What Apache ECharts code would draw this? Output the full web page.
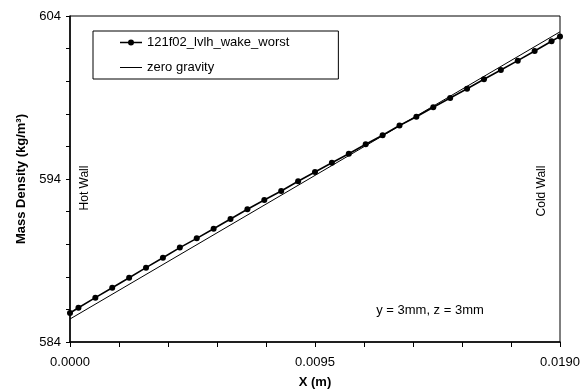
<!DOCTYPE html>
<html>
<head>
<meta charset="utf-8">
<script src="https://cdn.jsdelivr.net/npm/echarts@6/dist/echarts.min.js"></script>
<style>html,body{margin:0;padding:0;background:#fff}#c{width:581px;height:389px}</style>
</head>
<body>
<div id="c"></div>
<script>
var seriesNames = ['121f02_lvlh_wake_worst', 'zero gravity'];
var xPositions = [0, 0.000328, 0.000983, 0.001638, 0.002293, 0.002948, 0.003603, 0.004259, 0.004914, 0.005569, 0.006224, 0.006879, 0.007534, 0.008190, 0.008845, 0.0095, 0.010155, 0.010810, 0.011466, 0.012121, 0.012776, 0.013431, 0.014086, 0.014741, 0.015397, 0.016052, 0.016707, 0.017362, 0.018017, 0.018672, 0.019];
var wakeDensity = [585.78, 586.10, 586.72, 587.33, 587.94, 588.56, 589.17, 589.79, 590.36, 590.95, 591.55, 592.14, 592.71, 593.26, 593.86, 594.43, 595.00, 595.55, 596.13, 596.68, 597.28, 597.82, 598.40, 598.97, 599.54, 600.12, 600.69, 601.26, 601.85, 602.45, 602.75];
var zeroGX = [0, 0.019];
var zeroGDensity = [585.41, 603.03];
var yLabels = [584, 594, 604];
var xLabels = [0, 0.0095, 0.019];

var font = 'Liberation Sans, Arial, sans-serif';
var chart = echarts.init(document.getElementById('c'));
function pairs(xs, ys) { return xs.map(function (x, i) { return [x, ys[i]]; }); }
chart.setOption({
  animation: false,
  textStyle: { fontFamily: font },
  grid: { left: 70, right: 21, top: 16, bottom: 47, show: true, borderColor: '#000', borderWidth: 1, containLabel: false, outerBoundsMode: 'none' },
  legend: {
    left: 93, top: 31, orient: 'vertical',
    borderColor: '#000', borderWidth: 1,
    padding: [5, 49, 5, 27], itemGap: 12, itemWidth: 22, itemHeight: 14,
    symbolKeepAspect: true,
    textStyle: { fontFamily: font, fontSize: 13, color: '#000' },
    data: [
      { name: seriesNames[0], icon: 'path://M0 2.25 H22 V3.75 H0 Z M11 0 A3 3 0 1 1 11 6 A3 3 0 1 1 11 0 Z', itemStyle: { color: '#000', borderWidth: 0 } },
      { name: seriesNames[1], icon: 'path://M0 0 H22 V1 H0 Z', itemStyle: { color: '#000', borderWidth: 0 } }
    ]
  },
  xAxis: {
    type: 'value', min: 0, max: 0.019, interval: 0.0019,
    name: 'X (m)', nameLocation: 'middle', nameGap: 34,
    nameTextStyle: { fontFamily: font, fontSize: 13, fontWeight: 'bold', color: '#000' },
    axisLine: { show: true, lineStyle: { color: '#000', width: 1.5 } },
    axisTick: { show: true, inside: false, length: 5, lineStyle: { color: '#000' } },
    splitLine: { show: false },
    axisLabel: {
      color: '#000', fontSize: 13, fontFamily: font, margin: 14, showMaxLabel: true,
      formatter: function (v) {
        for (var i = 0; i < xLabels.length; i++) if (Math.abs(v - xLabels[i]) < 1e-7) return xLabels[i].toFixed(4);
        return '';
      }
    }
  },
  yAxis: {
    type: 'value', min: 584, max: 604, interval: 2,
    name: 'Mass Density (kg/m³)', nameLocation: 'middle', nameGap: 35,
    nameTextStyle: { fontFamily: font, fontSize: 13, fontWeight: 'bold', color: '#000' },
    axisLine: { show: true, lineStyle: { color: '#000', width: 1.5 } },
    axisTick: { show: true, inside: false, length: 4, lineStyle: { color: '#000' } },
    splitLine: { show: false },
    axisLabel: {
      color: '#000', fontSize: 13, fontFamily: font, margin: 9,
      formatter: function (v) { return yLabels.indexOf(Math.round(v)) >= 0 ? String(Math.round(v)) : ''; }
    }
  },
  graphic: [
    { type: 'text', x: 85, y: 188, rotation: Math.PI / 2, style: { text: 'Hot Wall', fill: '#000', font: '12px ' + font, align: 'center', verticalAlign: 'middle' } },
    { type: 'text', x: 542, y: 191, rotation: Math.PI / 2, style: { text: 'Cold Wall', fill: '#000', font: '12px ' + font, align: 'center', verticalAlign: 'middle' } },
    { type: 'text', x: 430, y: 310, style: { text: 'y = 3mm, z = 3mm', fill: '#000', font: '13px ' + font, align: 'center', verticalAlign: 'middle' } }
  ],
  series: [
    {
      name: seriesNames[0], type: 'line', data: pairs(xPositions, wakeDensity),
      symbol: 'circle', symbolSize: 6, showSymbol: true,
      lineStyle: { color: '#000', width: 1.6 }, itemStyle: { color: '#000' }, z: 3
    },
    {
      name: seriesNames[1], type: 'line', data: pairs(zeroGX, zeroGDensity),
      symbol: 'none', lineStyle: { color: '#000', width: 1 }, itemStyle: { color: '#000' }, z: 2
    }
  ]
});
</script>
</body>
</html>
